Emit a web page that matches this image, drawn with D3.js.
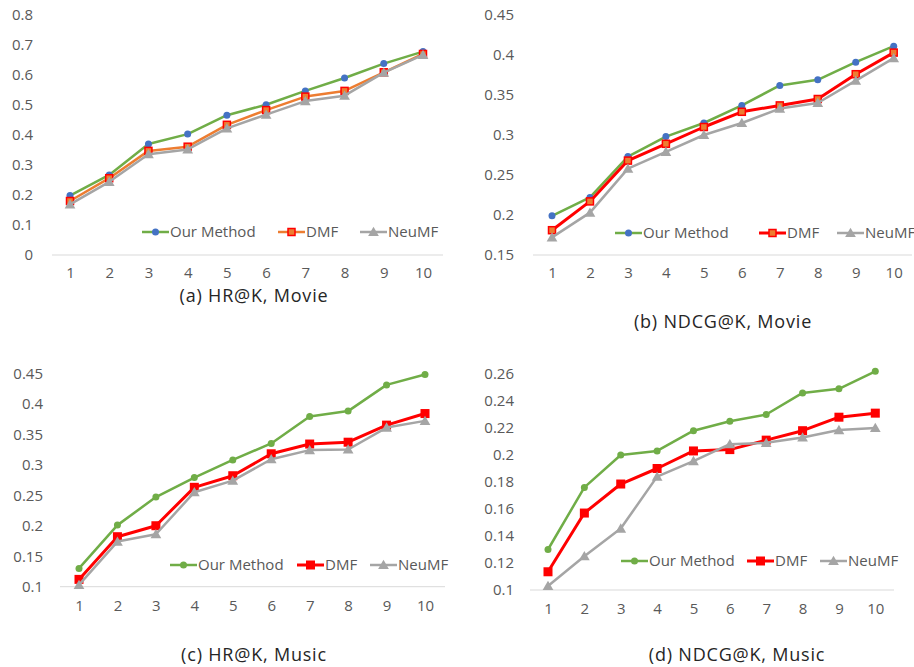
<!DOCTYPE html>
<html>
<head>
<meta charset="utf-8">
<script src="https://cdn.jsdelivr.net/npm/d3@7"></script>
<style>
  body { margin: 0; background: #fff; }
  svg { display: block; font-family: "Open Sans", sans-serif; }
</style>
</head>
<body>
<svg id="chart" width="914" height="667"></svg>
<script>
const K = [1, 2, 3, 4, 5, 6, 7, 8, 9, 10];
const seriesNames = ["Our Method", "DMF", "NeuMF"];

// (a) HR@K, Movie
const hrMovieOurs = [0.198, 0.267, 0.370, 0.403, 0.466, 0.501, 0.547, 0.590, 0.638, 0.678];
const hrMovieDMF = [0.180, 0.256, 0.347, 0.361, 0.434, 0.483, 0.528, 0.547, 0.609, 0.670];
const hrMovieNeuMF = [0.169, 0.244, 0.336, 0.352, 0.422, 0.468, 0.513, 0.531, 0.608, 0.667];
const hrMovieTicks = ["0", "0.1", "0.2", "0.3", "0.4", "0.5", "0.6", "0.7", "0.8"];

// (b) NDCG@K, Movie
const ndcgMovieOurs = [0.199, 0.222, 0.273, 0.298, 0.315, 0.337, 0.362, 0.369, 0.391, 0.411];
const ndcgMovieDMF = [0.181, 0.217, 0.268, 0.289, 0.310, 0.329, 0.337, 0.345, 0.376, 0.403];
const ndcgMovieNeuMF = [0.172, 0.203, 0.258, 0.279, 0.300, 0.315, 0.333, 0.340, 0.368, 0.396];
const ndcgMovieTicks = ["0.15", "0.2", "0.25", "0.3", "0.35", "0.4", "0.45"];

// (c) HR@K, Music
const hrMusicOurs = [0.130, 0.201, 0.247, 0.279, 0.308, 0.335, 0.379, 0.388, 0.431, 0.448];
const hrMusicDMF = [0.112, 0.182, 0.200, 0.263, 0.282, 0.318, 0.334, 0.337, 0.365, 0.384];
const hrMusicNeuMF = [0.103, 0.174, 0.186, 0.255, 0.274, 0.309, 0.324, 0.325, 0.361, 0.372];
const hrMusicTicks = ["0.1", "0.15", "0.2", "0.25", "0.3", "0.35", "0.4", "0.45"];

// (d) NDCG@K, Music
const ndcgMusicOurs = [0.130, 0.176, 0.200, 0.203, 0.218, 0.225, 0.230, 0.246, 0.249, 0.262];
const ndcgMusicDMF = [0.1135, 0.157, 0.1785, 0.190, 0.203, 0.204, 0.211, 0.218, 0.228, 0.231];
const ndcgMusicNeuMF = [0.103, 0.125, 0.1455, 0.184, 0.1955, 0.208, 0.209, 0.213, 0.2185, 0.220];
const ndcgMusicTicks = ["0.1", "0.12", "0.14", "0.16", "0.18", "0.2", "0.22", "0.24", "0.26"];

const captions = ["(a) HR@K, Movie", "(b) NDCG@K, Movie", "(c) HR@K, Music", "(d) NDCG@K, Music"];

const green = "#70ad47", blue = "#4472c4", orange = "#ed7d31", red = "#ff0000", grey = "#a5a5a5";

// layout of each panel
const panels = [
  { series: [hrMovieOurs, hrMovieDMF, hrMovieNeuMF], ticks: hrMovieTicks,
    x1: 70, x10: 423, axisX: [52, 443], yTop: 15, yBot: 255, labelRight: 33, xLabelY: 277,
    caption: captions[0], capX: 254, capY: 296,
    legend: [142, 278, 360], legendY: 232,
    style: "movieA" },
  { series: [ndcgMovieOurs, ndcgMovieDMF, ndcgMovieNeuMF], ticks: ndcgMovieTicks,
    x1: 552, x10: 893.7, axisX: [533, 912], yTop: 15, yBot: 255, labelRight: 514, xLabelY: 277,
    caption: captions[1], capX: 723, capY: 322,
    legend: [615, 759, 837], legendY: 233,
    style: "movieB" },
  { series: [hrMusicOurs, hrMusicDMF, hrMusicNeuMF], ticks: hrMusicTicks,
    x1: 79, x10: 425, axisX: [60, 445], yTop: 373.3, yBot: 586.7, labelRight: 43, xLabelY: 610,
    caption: captions[2], capX: 254, capY: 655,
    legend: [170, 297, 370], legendY: 565,
    style: "music" },
  { series: [ndcgMusicOurs, ndcgMusicDMF, ndcgMusicNeuMF], ticks: ndcgMusicTicks,
    x1: 548, x10: 875.3, axisX: [530, 894], yTop: 374, yBot: 590, labelRight: 514, xLabelY: 613,
    caption: captions[3], capX: 737, capY: 655,
    legend: [621, 747, 820], legendY: 561,
    style: "music" }
];

function seriesStyle(style, i) {
  if (i === 0) return { line: green, fill: style === "music" ? green : blue, stroke: "none", shape: "circle", width: 2.5 };
  if (i === 1) {
    if (style === "movieA") return { line: orange, fill: orange, stroke: red, shape: "square", width: 2.5 };
    if (style === "movieB") return { line: red, fill: orange, stroke: red, shape: "square", width: 3 };
    return { line: red, fill: red, stroke: red, shape: "squareBig", width: 3 };
  }
  return { line: grey, fill: grey, stroke: "none", shape: "triangle", width: 2.5 };
}

function drawMarker(g, st, x, y) {
  if (st.shape === "circle") {
    g.append("circle").attr("cx", x).attr("cy", y).attr("r", 3.5)
      .attr("fill", st.fill);
  } else if (st.shape === "square") {
    g.append("rect").attr("x", x - 3.5).attr("y", y - 3.5).attr("width", 7).attr("height", 7)
      .attr("fill", st.fill).attr("stroke", st.stroke).attr("stroke-width", 1.5);
  } else if (st.shape === "squareBig") {
    g.append("rect").attr("x", x - 4.5).attr("y", y - 4.5).attr("width", 9).attr("height", 9)
      .attr("fill", st.fill);
  } else {
    g.append("path").attr("transform", `translate(${x},${y + 1})`)
      .attr("d", d3.symbol(d3.symbolTriangle, 50)())
      .attr("fill", st.fill);
  }
}

const svg = d3.select("#chart");

panels.forEach(p => {
  const g = svg.append("g");
  const tickNums = p.ticks.map(Number);
  const x = d3.scaleLinear().domain([1, 10]).range([p.x1, p.x10]);
  const y = d3.scaleLinear().domain([d3.min(tickNums), d3.max(tickNums)]).range([p.yBot, p.yTop]);

  // baseline
  g.append("line")
    .attr("x1", p.axisX[0]).attr("x2", p.axisX[1])
    .attr("y1", y(tickNums[0])).attr("y2", y(tickNums[0]))
    .attr("stroke", "#d9d9d9").attr("stroke-width", 1);

  // y axis
  const yAxis = g.append("g")
    .attr("transform", `translate(${p.labelRight},0)`)
    .call(d3.axisLeft(y).tickValues(tickNums).tickFormat((d, i) => p.ticks[i]).tickSize(0).tickPadding(0));
  yAxis.select(".domain").remove();
  yAxis.selectAll("text").attr("fill", "#595959").style("font-size", "15px").style("font-family", "Open Sans");

  // x axis
  const xAxis = g.append("g")
    .attr("transform", `translate(0,${p.xLabelY - 10})`)
    .call(d3.axisBottom(x).tickValues(K).tickFormat(d => d).tickSize(0).tickPadding(0));
  xAxis.select(".domain").remove();
  xAxis.selectAll("text").attr("fill", "#595959").style("font-size", "15px").style("font-family", "Open Sans");

  // lines and markers
  p.series.forEach((vals, i) => {
    const st = seriesStyle(p.style, i);
    const line = d3.line().x((d, j) => x(K[j])).y(d => y(d));
    g.append("path").datum(vals)
      .attr("d", line)
      .attr("fill", "none")
      .attr("stroke", st.line)
      .attr("stroke-width", st.width)
      .attr("stroke-linejoin", "round");
    const mg = g.append("g");
    vals.forEach((v, j) => drawMarker(mg, st, x(K[j]), y(v)));
  });

  // legend
  seriesNames.forEach((name, i) => {
    const st = seriesStyle(p.style, i);
    const lx = p.legend[i];
    g.append("line")
      .attr("x1", lx).attr("x2", lx + 27)
      .attr("y1", p.legendY).attr("y2", p.legendY)
      .attr("stroke", st.line).attr("stroke-width", st.width);
    drawMarker(g, st, lx + 13.5, p.legendY);
    g.append("text")
      .attr("x", lx + 28).attr("y", p.legendY)
      .attr("dy", "0.35em")
      .attr("fill", "#595959")
      .style("font-size", "15px")
      .text(name);
  });

  // caption
  g.append("text")
    .attr("x", p.capX).attr("y", p.capY)
    .attr("dy", "0.35em")
    .attr("text-anchor", "middle")
    .attr("fill", "#262626")
    .style("font-size", "18px")
    .style("letter-spacing", "0.8px")
    .text(p.caption);
});
</script>
</body>
</html>
